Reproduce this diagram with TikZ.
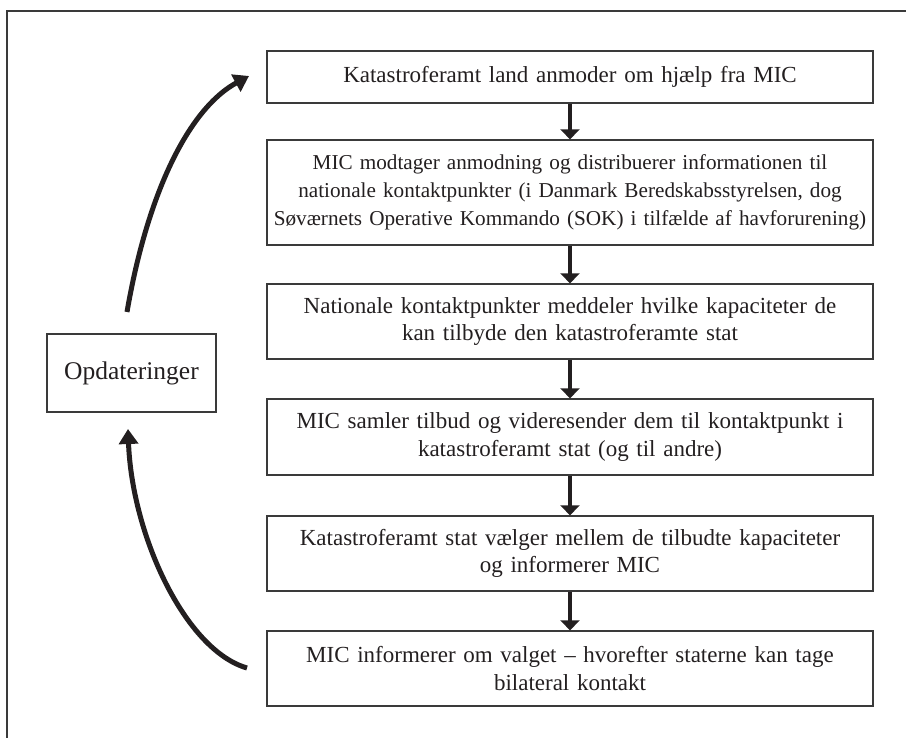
\documentclass[tikz,border=0pt]{standalone}
\usepackage{fontspec}
\setmainfont{Liberation Serif}
\usetikzlibrary{arrows.meta}
\definecolor{ink}{HTML}{231F20}
\definecolor{frame}{HTML}{3A3A3A}
\tikzset{
  stepbox/.style={draw=frame, line width=1.3pt, minimum width=606pt, text width=604pt, align=center, inner sep=0pt, text=ink, font=\fontsize{23}{27.5}\selectfont},
  sidebox/.style={draw=frame, line width=1.3pt, minimum width=169pt, minimum height=78pt, inner sep=0pt, text=ink, font=\fontsize{25.5}{28}\selectfont},
  varrow/.style={draw=ink, line width=4.3pt, -{Triangle[width=19pt,length=10pt]}},
  carrow/.style={draw=ink, line width=5pt, -{Triangle[width=19pt,length=15pt]}},
}
\begin{document}
\begin{tikzpicture}[x=1pt,y=-1pt]
\useasboundingbox (0,0) rectangle (906,738);
\draw[frame, line width=1.5pt] (910,11) -- (7,11) -- (7,742);
\node[stepbox, minimum height=52pt] (b1) at (570,77) {Katastroferamt land anmoder om hjælp fra MIC};
\node[stepbox, minimum height=105pt, font=\fontsize{21.2}{28}\selectfont] (b2) at (570,192.5) {MIC modtager anmodning og distribuerer informationen til\\ nationale kontaktpunkter (i Danmark Beredskabsstyrelsen, dog\\ Søværnets Operative Kommando (SOK) i tilfælde af havforurening)};
\node[stepbox, minimum height=75pt] (b3) at (570,321.5) {Nationale kontaktpunkter meddeler hvilke kapaciteter de\\ kan tilbyde den katastroferamte stat};
\node[stepbox, minimum height=76pt] (b4) at (570,437) {MIC samler tilbud og videresender dem til kontaktpunkt i\\ katastroferamt stat (og til andre)};
\node[stepbox, minimum height=75pt] (b5) at (570,553.5) {Katastroferamt stat vælger mellem de tilbudte kapaciteter\\ og informerer MIC};
\node[stepbox, minimum height=75pt] (b6) at (570,668.5) {MIC informerer om valget -- hvorefter staterne kan tage\\ bilateral kontakt};
\node[sidebox] (op) at (131.5,373) {Opdateringer};
\draw[varrow] (b1.south) -- (b2.north);
\draw[varrow] (b2.south) -- (b3.north);
\draw[varrow] (b3.south) -- (b4.north);
\draw[varrow] (b4.south) -- (b5.north);
\draw[varrow] (b5.south) -- (b6.north);
\coordinate (us) at (127,312);
\coordinate (ue) at (249,76);
\coordinate (ls) at (247,668);
\coordinate (le) at (128,429);
\draw[carrow] (us) .. controls (148,190) and (190,108) .. (ue);
\draw[carrow] (ls) .. controls (185,650) and (132,535) .. (le);
\end{tikzpicture}
\end{document}
